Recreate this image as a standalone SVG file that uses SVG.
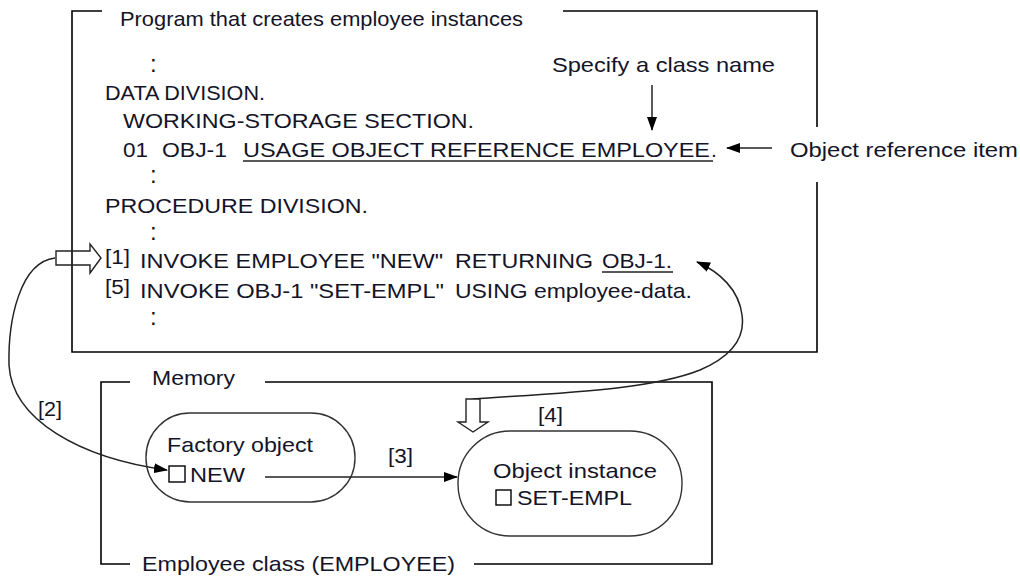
<svg xmlns="http://www.w3.org/2000/svg" width="1020" height="579" viewBox="0 0 1020 579">
<style>
text{font-family:"Liberation Sans",Arial,sans-serif;font-size:21px;fill:#141428;}
.sm{font-size:20px;}
.col{font-size:24px;}
.frame{fill:none;stroke:#000;stroke-width:1.6;}
.node{fill:none;stroke:#333;stroke-width:1.4;}
.sq{fill:none;stroke:#000;stroke-width:1.4;}
.conn{fill:none;stroke:#222;stroke-width:1.5;}
.hollow{fill:#fff;stroke:#222;stroke-width:1.4;}
.ul{stroke:#222;stroke-width:1.5;}
</style>
<defs>
<marker id="ah" viewBox="0 0 14 10" refX="13" refY="5" markerWidth="14" markerHeight="10" markerUnits="userSpaceOnUse" orient="auto">
<path d="M0,0 L14,5 L0,10 Z" fill="#000"/>
</marker>
</defs>

<g id="program">
<path class="frame" d="M102,11 H72 V352 H817 V182 M817,127 V11 H563"/>
<text x="120" y="26" textLength="403" lengthAdjust="spacingAndGlyphs">Program that creates employee instances</text>
<text class="col" x="150" y="72">:</text>
<text x="105" y="100" textLength="160" lengthAdjust="spacingAndGlyphs">DATA DIVISION.</text>
<text x="123" y="128" textLength="351" lengthAdjust="spacingAndGlyphs">WORKING-STORAGE SECTION.</text>
<text x="123" y="157" textLength="25" lengthAdjust="spacingAndGlyphs">01</text>
<text x="162" y="157" textLength="65" lengthAdjust="spacingAndGlyphs">OBJ-1</text>
<text x="243" y="157" textLength="467" lengthAdjust="spacingAndGlyphs">USAGE OBJECT REFERENCE EMPLOYEE</text>
<text x="711" y="157">.</text>
<line class="ul" x1="243" y1="161" x2="713" y2="161"/>
<text class="col" x="150" y="183">:</text>
<text x="105" y="213" textLength="263" lengthAdjust="spacingAndGlyphs">PROCEDURE DIVISION.</text>
<text class="col" x="150" y="240">:</text>
<text class="sm" x="105" y="264" textLength="25" lengthAdjust="spacingAndGlyphs">[1]</text>
<text x="140" y="268" textLength="303" lengthAdjust="spacingAndGlyphs">INVOKE EMPLOYEE "NEW"</text>
<text x="455" y="268" textLength="138" lengthAdjust="spacingAndGlyphs">RETURNING</text>
<text x="602" y="268" textLength="70" lengthAdjust="spacingAndGlyphs">OBJ-1.</text>
<line class="ul" x1="602" y1="272" x2="673" y2="272"/>
<text class="sm" x="105" y="294" textLength="25" lengthAdjust="spacingAndGlyphs">[5]</text>
<text x="140" y="298" textLength="304" lengthAdjust="spacingAndGlyphs">INVOKE OBJ-1 "SET-EMPL"</text>
<text x="455" y="298" textLength="237" lengthAdjust="spacingAndGlyphs">USING employee-data.</text>
<text class="col" x="150" y="325">:</text>
</g>

<g id="note-class">
<text x="552" y="72" textLength="223" lengthAdjust="spacingAndGlyphs">Specify a class name</text>
</g>
<g id="note-objref">
<text x="790" y="157" textLength="228" lengthAdjust="spacingAndGlyphs">Object reference item</text>
</g>

<g id="memory">
<path class="frame" d="M130,382 H101 V564 H130 M474,564 H712 V382 H265"/>
<text x="152" y="385" textLength="83" lengthAdjust="spacingAndGlyphs">Memory</text>
<text x="142" y="571" textLength="313" lengthAdjust="spacingAndGlyphs">Employee class (EMPLOYEE)</text>
</g>

<g id="factory">
<rect class="node" x="146" y="413" width="209" height="89" rx="44" ry="44"/>
<text x="167" y="452" textLength="146" lengthAdjust="spacingAndGlyphs">Factory object</text>
<rect class="sq" x="169" y="466" width="16" height="16"/>
<text x="190" y="482" textLength="55" lengthAdjust="spacingAndGlyphs">NEW</text>
</g>

<g id="instance">
<rect class="node" x="458" y="431" width="224" height="105" rx="52" ry="52"/>
<text x="493" y="478" textLength="164" lengthAdjust="spacingAndGlyphs">Object instance</text>
<rect class="sq" x="496" y="490" width="15" height="15"/>
<text x="517" y="505" textLength="115" lengthAdjust="spacingAndGlyphs">SET-EMPL</text>
</g>

<g id="labels">
<text x="38" y="416" textLength="24" lengthAdjust="spacingAndGlyphs">[2]</text>
<text x="388" y="463" textLength="25" lengthAdjust="spacingAndGlyphs">[3]</text>
<text x="538" y="422" textLength="25" lengthAdjust="spacingAndGlyphs">[4]</text>
</g>

<g id="connectors">
<path id="c2" class="conn" d="M55,258 C20,262 8,320 9,365 C12,420 80,458 167,470" marker-end="url(#ah)"/>
<line id="c3" class="conn" x1="265" y1="477" x2="457" y2="477" marker-end="url(#ah)"/>
<path id="c4" class="conn" d="M473,399 C560,393 650,390 700,370 C735,355 745,335 742,315 C739,290 720,272 697,262" marker-end="url(#ah)"/>
<line id="cls" class="conn" x1="652" y1="85" x2="652" y2="130" marker-end="url(#ah)"/>
<line id="orf" class="conn" x1="772" y1="148" x2="727" y2="148" marker-end="url(#ah)"/>
<polygon id="h1" class="hollow" style="fill:none" points="56,251 90,251 90,244 101,258 90,273 90,265 56,265"/>
<polygon id="h4" class="hollow" points="466,399 480,399 480,422 488,422 473,432 458,422 466,422"/>
</g>
</svg>
